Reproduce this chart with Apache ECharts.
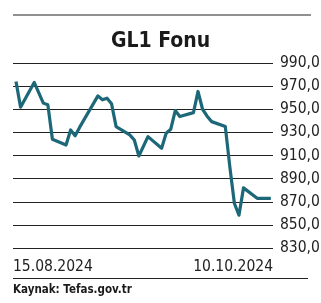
<!DOCTYPE html>
<html>
<head>
<meta charset="utf-8">
<script src="https://cdn.jsdelivr.net/npm/echarts@6/dist/echarts.min.js"></script>
<style>
html,body{margin:0;padding:0;background:#fff;}
#c{width:321px;height:303px;}
</style>
</head>
<body>
<div id="c"></div>
<script>
const title = 'GL1 Fonu';
const source = 'Kaynak: Tefas.gov.tr';
const dates = ['2024-08-15','2024-08-16','2024-08-19','2024-08-21','2024-08-22','2024-08-23','2024-08-26','2024-08-27','2024-08-28','2024-08-29','2024-09-02','2024-09-03','2024-09-04','2024-09-05','2024-09-06','2024-09-09','2024-09-10','2024-09-11','2024-09-13','2024-09-16','2024-09-17','2024-09-18','2024-09-19','2024-09-20','2024-09-23','2024-09-24','2024-09-25','2024-09-26','2024-09-27','2024-09-30','2024-10-01','2024-10-02','2024-10-03','2024-10-04','2024-10-07','2024-10-10'];
const values = [974.0, 951.8, 973.2, 955.3, 953.8, 924.1, 919.1, 932.1, 927.0, 934.5, 961.6, 958.2, 959.6, 954.7, 935.0, 927.8, 923.4, 909.6, 926.3, 916.2, 929.3, 932.7, 948.9, 943.7, 947.1, 965.4, 950.0, 944.0, 939.3, 935.0, 900.0, 868.5, 858.4, 882.0, 873.0, 873.0];
const xTickLabels = ['15.08.2024', '10.10.2024'];
const yMin = 830, yMax = 990, yStep = 20;

const DAY = 864e5;
const condensed = '"DejaVu Sans Condensed", "Liberation Sans Narrow", "Roboto Condensed", sans-serif';

const chart = echarts.init(document.getElementById('c'), null, {renderer: 'canvas'});
chart.setOption({
  animation: false,
  backgroundColor: '#fff',
  title: {
    text: title,
    left: 'center',
    top: 26,
    textStyle: {fontFamily: condensed, fontWeight: 'bold', fontSize: 21, color: '#1a1a1a'}
  },
  grid: {left: 13, right: 48, top: 63, bottom: 55, containLabel: false, outerBoundsMode: 'none'},
  xAxis: [{
    type: 'time',
    min: v => v.min - 0.66 * DAY,
    max: v => v.max + 0.48 * DAY,
    axisLine: {show: false},
    axisTick: {show: false},
    axisLabel: {show: false},
    splitLine: {show: false}
  }, {
    type: 'category',
    position: 'bottom',
    data: xTickLabels,
    boundaryGap: false,
    axisLine: {show: false},
    axisTick: {show: false},
    splitLine: {show: false},
    axisLabel: {
      margin: 11,
      fontFamily: condensed,
      fontSize: 15.5,
      color: '#222',
      alignMinLabel: 'left',
      alignMaxLabel: 'right',
      interval: 0
    }
  }],
  yAxis: {
    type: 'value',
    position: 'right',
    min: yMin,
    max: yMax,
    interval: yStep,
    axisLine: {show: false},
    axisTick: {show: false},
    axisLabel: {
      margin: 7,
      fontFamily: condensed,
      fontSize: 15.5,
      color: '#222',
      formatter: v => v.toFixed(1).replace('.', ',')
    },
    splitLine: {lineStyle: {color: '#222', width: 1}}
  },
  series: [{
    type: 'line',
    xAxisIndex: 0,
    data: dates.map((d, i) => [d, values[i]]),
    showSymbol: false,
    lineStyle: {color: '#1d6878', width: 3.2, join: 'round'},
    itemStyle: {color: '#1d6878'}
  }],
  graphic: [
    {type: 'line', shape: {x1: 13, y1: 15, x2: 311, y2: 15}, style: {stroke: '#222', lineWidth: 1.2}},
    {type: 'line', shape: {x1: 13, y1: 278.5, x2: 308, y2: 278.5}, style: {stroke: '#222', lineWidth: 1.2}},
    {type: 'text', left: 13, top: 284, style: {text: source, font: 'bold 11.5px ' + condensed, fill: '#1a1a1a'}}
  ]
});
</script>
</body>
</html>
